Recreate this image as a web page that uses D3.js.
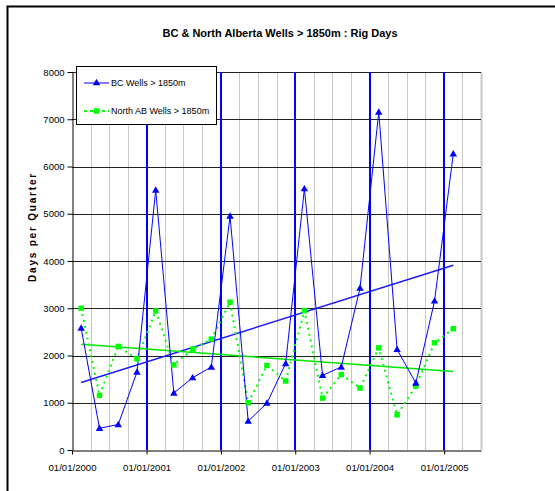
<!DOCTYPE html>
<html>
<head>
<meta charset="utf-8">
<script src="https://cdn.jsdelivr.net/npm/d3@7"></script>
<style>
  body { margin: 0; background: #fff; }
  svg { display: block; font-family: Arial, "Liberation Sans", sans-serif; }
</style>
</head>
<body>
<div id="chart"></div>
<script>
// Quarterly points (plotted mid-quarter)
const quarterDates = [
  "2000-02-15", "2000-05-15", "2000-08-15", "2000-11-15",
  "2001-02-15", "2001-05-15", "2001-08-15", "2001-11-15",
  "2002-02-15", "2002-05-15", "2002-08-15", "2002-11-15",
  "2003-02-15", "2003-05-15", "2003-08-15", "2003-11-15",
  "2004-02-15", "2004-05-15", "2004-08-15", "2004-11-15",
  "2005-02-15"
];
const bcWells = [
  2580, 460, 540, 1650,
  5500, 1205, 1530, 1757,
  4950, 610, 992, 1830,
  5530, 1580, 1757, 3425,
  7150, 2128, 1417, 3155,
  6270
];
const northAbWells = [
  3000, 1155, 2191, 1928,
  2943, 1800, 2134, 2347,
  3128, 1000, 1787, 1460,
  2949, 1098, 1596, 1311,
  2162, 745, 1354, 2269,
  2566
];
const yTicks = [0, 1000, 2000, 3000, 4000, 5000, 6000, 7000, 8000];
const seriesNames = ["BC Wells > 1850m", "North AB Wells > 1850m"];
const chartTitle = "BC & North Alberta Wells > 1850m : Rig Days";
const yTitle = "Days per Quarter";

const width = 555, height = 491;
const margin = { top: 72, right: 74, bottom: 41, left: 72 };

const parse = d3.timeParse("%Y-%m-%d");
const dates = quarterDates.map(parse);

const svg = d3.select("#chart").append("svg")
  .attr("width", width)
  .attr("height", height);

const x = d3.scaleTime()
  .domain([new Date(2000, 0, 1), new Date(2005, 6, 1)])
  .range([margin.left, width - margin.right]);
const y = d3.scaleLinear()
  .domain([0, 8000])
  .range([height - margin.bottom, margin.top]);

// outer frame (chart was cropped at right and bottom)
svg.append("rect")
  .attr("x", 7.5).attr("y", 6.5)
  .attr("width", 600).attr("height", 600)
  .attr("fill", "none").attr("stroke", "#000").attr("stroke-width", 2);

// title
svg.append("text")
  .attr("x", 280).attr("y", 37)
  .attr("text-anchor", "middle")
  .attr("font-size", "11px").attr("font-weight", "bold")
  .text(chartTitle);

// quarter gridlines
const quarters = d3.timeMonth.every(3).range(new Date(2000, 3, 1), new Date(2005, 7, 1));
svg.append("g").selectAll("line")
  .data(quarters.filter(d => d.getMonth() !== 0))
  .join("line")
  .attr("x1", d => Math.round(x(d)) + 0.5).attr("x2", d => Math.round(x(d)) + 0.5)
  .attr("y1", y(8000)).attr("y2", y(0))
  .attr("stroke", "#c8c8c8")
  .attr("stroke-width", d => +d === +new Date(2005, 6, 1) ? 2 : 1);

// horizontal gridlines
svg.append("g").selectAll("line")
  .data(yTicks.filter(d => d > 0))
  .join("line")
  .attr("x1", x.range()[0]).attr("x2", x.range()[1])
  .attr("y1", d => Math.round(y(d)) + 0.5).attr("y2", d => Math.round(y(d)) + 0.5)
  .attr("stroke", "#222").attr("stroke-width", 1);

// year lines
const years = d3.timeYear.range(new Date(2001, 0, 1), new Date(2005, 1, 1));
svg.append("g").selectAll("line")
  .data(years)
  .join("line")
  .attr("x1", d => Math.round(x(d))).attr("x2", d => Math.round(x(d)))
  .attr("y1", y(8000)).attr("y2", y(0))
  .attr("stroke", "#0000ff").attr("stroke-width", 2);

// axes
const xAxis = svg.append("g")
  .attr("transform", `translate(0,${y(0) + 0.5})`)
  .call(d3.axisBottom(x)
    .tickValues(d3.timeYear.range(new Date(2000, 0, 1), new Date(2005, 1, 1)))
    .tickFormat(d3.timeFormat("%d/%m/%Y"))
    .tickSize(4).tickSizeOuter(0));
xAxis.select(".domain").attr("stroke", "#000");
xAxis.selectAll("text").attr("font-size", "9.6px").attr("fill", "#000")
  .attr("font-family", null).attr("dy", "1.4em");

const yAxis = svg.append("g")
  .attr("transform", `translate(${x.range()[0] + 0.5},0)`)
  .call(d3.axisLeft(y).tickValues(yTicks).tickFormat(d3.format("d"))
    .tickSize(5).tickSizeOuter(0).tickPadding(3));
yAxis.select(".domain").attr("stroke", "#000");
yAxis.selectAll("text").attr("font-size", "9.5px").attr("fill", "#000")
  .attr("font-family", null);

svg.append("text")
  .attr("transform", "translate(36,227) rotate(-90)")
  .attr("text-anchor", "middle")
  .attr("font-size", "10px").attr("font-weight", "bold")
  .attr("letter-spacing", "1.8px")
  .text(yTitle);

// linear trend from data
function trend(vals) {
  const xs = dates.map(d => +d);
  const mx = d3.mean(xs), my = d3.mean(vals);
  const slope = d3.sum(xs, (v, i) => (v - mx) * (vals[i] - my)) /
    d3.sum(xs, v => (v - mx) * (v - mx));
  const b = my - slope * mx;
  return [dates[0], dates[dates.length - 1]].map(d => [d, slope * d + b]);
}

const line = d3.line().x(d => x(d[0])).y(d => y(d[1]));
const bcPts = dates.map((d, i) => [d, bcWells[i]]);
const abPts = dates.map((d, i) => [d, northAbWells[i]]);

svg.append("path").datum(trend(bcWells)).attr("d", line)
  .attr("fill", "none").attr("stroke", "#1a1aff").attr("stroke-width", 1.5);
svg.append("path").datum(trend(northAbWells)).attr("d", line)
  .attr("fill", "none").attr("stroke", "#00e600").attr("stroke-width", 1.5);

svg.append("path").datum(abPts).attr("d", line)
  .attr("fill", "none").attr("stroke", "#00ff00").attr("stroke-width", 2)
  .attr("stroke-dasharray", "2,4");
svg.append("path").datum(bcPts).attr("d", line)
  .attr("fill", "none").attr("stroke", "#0000ff").attr("stroke-width", 1);

const tri = d3.symbol().type(d3.symbolTriangle).size(24);
const sq = d3.symbol().type(d3.symbolSquare).size(30);

svg.append("g").selectAll("path").data(abPts).join("path")
  .attr("transform", d => `translate(${x(d[0])},${y(d[1])})`)
  .attr("d", sq).attr("fill", "#00ff00");
svg.append("g").selectAll("path").data(bcPts).join("path")
  .attr("transform", d => `translate(${x(d[0])},${y(d[1]) + 0.5})`)
  .attr("d", tri).attr("fill", "#0000ff");

// legend
const lg = svg.append("g");
lg.append("rect")
  .attr("x", 76.5).attr("y", 66.5).attr("width", 140).attr("height", 58)
  .attr("fill", "#fff").attr("stroke", "#000").attr("stroke-width", 1);
const legendRows = [
  { name: seriesNames[0], ly: 83, color: "#0000ff", dash: null, sw: 1, sym: tri },
  { name: seriesNames[1], ly: 111, color: "#00ff00", dash: "3,3", sw: 2, sym: sq }
];
legendRows.forEach(r => {
  lg.append("line")
    .attr("x1", 84).attr("x2", 109).attr("y1", r.ly).attr("y2", r.ly)
    .attr("stroke", r.color).attr("stroke-width", r.sw)
    .attr("stroke-dasharray", r.dash);
  lg.append("path").attr("transform", `translate(96.5,${r.ly})`)
    .attr("d", r.sym).attr("fill", r.color);
  lg.append("text")
    .attr("x", 111).attr("y", r.ly).attr("dy", "0.35em")
    .attr("font-size", "9px")
    .text(r.name);
});
</script>
</body>
</html>
